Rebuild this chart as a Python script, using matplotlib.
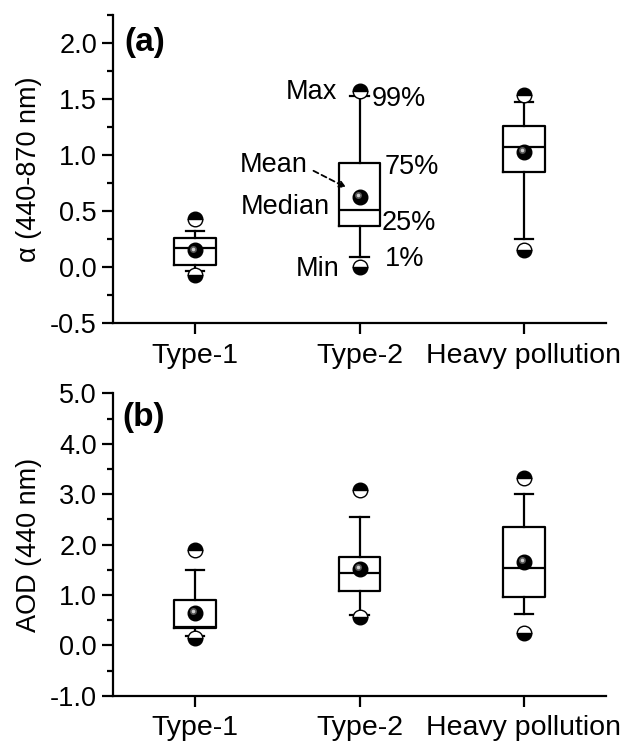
import matplotlib
matplotlib.use("Agg")
import matplotlib.pyplot as plt
import matplotlib.transforms as mtransforms

plt.rcParams['font.family'] = ['Liberation Sans', 'DejaVu Sans']

categories = ["Type-1", "Type-2", "Heavy pollution"]

# Panel (a): Angstrom exponent alpha (440-870 nm)
a_max = [0.43, 1.57, 1.54]
a_p99 = [0.32, 1.53, 1.47]
a_q3 = [0.26, 0.93, 1.26]
a_med = [0.17, 0.51, 1.07]
a_mean = [0.15, 0.63, 1.03]
a_q1 = [0.02, 0.37, 0.85]
a_p1 = [-0.03, 0.09, 0.25]
a_min = [-0.07, 0.00, 0.15]

# Panel (b): AOD (440 nm)
b_max = [1.89, 3.08, 3.32]
b_p99 = [1.50, 2.54, 3.00]
b_q3 = [0.90, 1.75, 2.35]
b_med = [0.37, 1.43, 1.53]
b_mean = [0.64, 1.51, 1.65]
b_q1 = [0.34, 1.08, 0.96]
b_p1 = [0.19, 0.60, 0.62]
b_min = [0.15, 0.56, 0.25]

FS = 19.5
XFS = 20.5
LW = 1.6

fig = plt.figure(figsize=(6.38, 7.45), dpi=100)
ax1 = fig.add_axes([0.177, 0.566, 0.773, 0.414])
ax2 = fig.add_axes([0.177, 0.066, 0.773, 0.406])


def draw_panel(ax, mx, p99, q3, med, mean, q1, p1, mn):
    pos = [1, 2, 3]
    stats = []
    for i in range(3):
        stats.append(dict(med=med[i], q1=q1[i], q3=q3[i], whislo=p1[i],
                          whishi=p99[i], fliers=[], mean=mean[i]))
    ax.bxp(stats, positions=pos, widths=0.255, showfliers=False, showmeans=False,
           boxprops=dict(color='black', linewidth=LW),
           medianprops=dict(color='black', linewidth=LW),
           whiskerprops=dict(color='black', linewidth=LW),
           capprops=dict(color='black', linewidth=LW),
           capwidths=0.11, manage_ticks=False)
    ax.plot(pos, mx, linestyle='none', marker='o', ms=10.5, fillstyle='top',
            markerfacecolor='black', markerfacecoloralt='white',
            markeredgecolor='black', markeredgewidth=1.0, zorder=5)
    ax.plot(pos, mn, linestyle='none', marker='o', ms=10.5, fillstyle='bottom',
            markerfacecolor='black', markerfacecoloralt='white',
            markeredgecolor='black', markeredgewidth=1.0, zorder=5)
    # glossy mean marker
    ax.plot(pos, mean, linestyle='none', marker='o', ms=10.5, color='black', zorder=6)
    off = mtransforms.offset_copy(ax.transData, fig=fig, x=-1.3, y=1.3, units='points')
    ax.plot(pos, mean, linestyle='none', marker='o', ms=5, color='#555555',
            markeredgewidth=0, transform=off, zorder=7)
    ax.plot(pos, mean, linestyle='none', marker='o', ms=2.6, color='#d0d0d0',
            markeredgewidth=0, transform=off, zorder=8)

    ax.set_xlim(0.5, 3.5)
    ax.set_xticks([1, 2, 3])
    ax.set_xticklabels(categories, fontsize=XFS)
    for s in ['top', 'right']:
        ax.spines[s].set_visible(False)
    for s in ['left', 'bottom']:
        ax.spines[s].set_linewidth(LW)
    ax.tick_params(axis='both', which='major', direction='out', length=8,
                   width=LW)
    ax.tick_params(axis='y', which='major', labelsize=FS)
    ax.tick_params(axis='y', which='minor', direction='out', length=4, width=LW)
    ax.tick_params(axis='x', which='major', pad=6, labelsize=XFS)


draw_panel(ax1, a_max, a_p99, a_q3, a_med, a_mean, a_q1, a_p1, a_min)
draw_panel(ax2, b_max, b_p99, b_q3, b_med, b_mean, b_q1, b_p1, b_min)

ax1.set_ylim(-0.5, 2.25)
ax1.set_yticks([-0.5, 0.0, 0.5, 1.0, 1.5, 2.0])
ax1.set_yticks([-0.25, 0.25, 0.75, 1.25, 1.75, 2.25], minor=True)
ax1.set_yticklabels(['-0.5', '0.0', '0.5', '1.0', '1.5', '2.0'])
ax1.set_ylabel('α (440-870 nm)', fontsize=FS, labelpad=6)

ax2.set_ylim(-1.0, 5.0)
ax2.set_yticks([-1, 0, 1, 2, 3, 4, 5])
ax2.set_yticks([-0.5, 0.5, 1.5, 2.5, 3.5, 4.5], minor=True)
ax2.set_yticklabels(['-1.0', '0.0', '1.0', '2.0', '3.0', '4.0', '5.0'])
ax2.set_ylabel('AOD (440 nm)', fontsize=FS, labelpad=6)

ax1.text(0.024, 0.912, '(a)', transform=ax1.transAxes, fontsize=24,
         fontweight='bold', va='center', ha='left')
ax2.text(0.020, 0.921, '(b)', transform=ax2.transAxes, fontsize=24,
         fontweight='bold', va='center', ha='left')

# Annotations on Type-2 box in panel (a)
ax1.text(1.866, 1.563, 'Max', fontsize=FS, ha='right', va='center')
ax1.text(2.073, 1.503, '99%', fontsize=FS, ha='left', va='center')
ax1.text(2.152, 0.893, '75%', fontsize=FS, ha='left', va='center')
ax1.text(2.134, 0.393, '25%', fontsize=FS, ha='left', va='center')
ax1.text(2.152, 0.073, '1%', fontsize=FS, ha='left', va='center')
ax1.text(1.878, -0.017, 'Min', fontsize=FS, ha='right', va='center')
ax1.text(1.82, 0.533, 'Median', fontsize=FS, ha='right', va='center')
ax1.text(1.684, 0.913, 'Mean', fontsize=FS, ha='right', va='center')
ax1.annotate('', xy=(1.92, 0.71), xytext=(1.72, 0.86),
             arrowprops=dict(arrowstyle='-|>', color='black', lw=1.3,
                             linestyle=(0, (3, 2)), shrinkA=0, shrinkB=0,
                             mutation_scale=10))

fig.savefig('out.png', dpi=100)
